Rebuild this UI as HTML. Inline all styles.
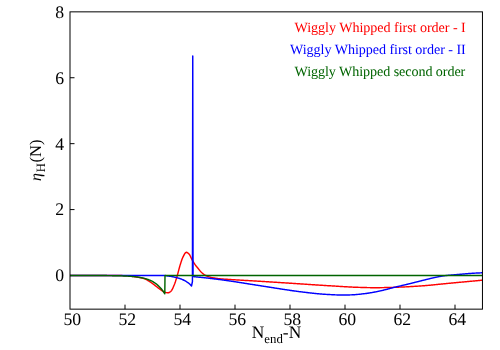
<!DOCTYPE html>
<html><head><meta charset="utf-8"><title>plot</title>
<style>
html,body{margin:0;padding:0;background:#fff;}
body{width:500px;height:350px;overflow:hidden;}
svg{display:block;}
text{font-family:"Liberation Serif",serif;text-rendering:geometricPrecision;}
svg{will-change:transform;}
</style></head>
<body>
<svg width="500" height="350" viewBox="0 0 500 350">
<rect x="0" y="0" width="500" height="350" fill="#ffffff"/>
<g stroke="#000" stroke-width="1" fill="none">
<line x1="125.00" y1="309.15" x2="125.00" y2="304.65"/><line x1="180.00" y1="309.15" x2="180.00" y2="304.65"/><line x1="235.00" y1="309.15" x2="235.00" y2="304.65"/><line x1="290.00" y1="309.15" x2="290.00" y2="304.65"/><line x1="345.00" y1="309.15" x2="345.00" y2="304.65"/><line x1="400.00" y1="309.15" x2="400.00" y2="304.65"/><line x1="455.00" y1="309.15" x2="455.00" y2="304.65"/><line x1="70.0" y1="275.50" x2="74.5" y2="275.50"/><line x1="70.0" y1="209.58" x2="74.5" y2="209.58"/><line x1="70.0" y1="143.66" x2="74.5" y2="143.66"/><line x1="70.0" y1="77.74" x2="74.5" y2="77.74"/>
</g>
<g fill="none" stroke-width="1.45" stroke-linejoin="round" stroke-linecap="butt">
<path d="M70.00,275.50 L70.52,275.50 L71.03,275.50 L71.55,275.50 L72.06,275.50 L72.58,275.50 L73.10,275.50 L73.61,275.50 L74.13,275.50 L74.65,275.50 L75.16,275.50 L75.68,275.50 L76.19,275.50 L76.71,275.50 L77.23,275.50 L77.74,275.50 L78.26,275.50 L78.78,275.50 L79.29,275.50 L79.81,275.50 L80.32,275.50 L80.84,275.50 L81.36,275.50 L81.87,275.50 L82.39,275.50 L82.91,275.50 L83.42,275.50 L83.94,275.50 L84.45,275.50 L84.97,275.50 L85.49,275.50 L86.00,275.50 L86.52,275.50 L87.03,275.50 L87.55,275.50 L88.07,275.50 L88.58,275.50 L89.10,275.50 L89.62,275.50 L90.13,275.50 L90.65,275.50 L91.16,275.50 L91.68,275.50 L92.20,275.50 L92.71,275.50 L93.23,275.50 L93.75,275.50 L94.26,275.50 L94.78,275.50 L95.29,275.50 L95.81,275.50 L96.33,275.50 L96.84,275.50 L97.36,275.50 L97.88,275.50 L98.39,275.50 L98.91,275.50 L99.42,275.50 L99.94,275.50 L100.46,275.50 L100.97,275.50 L101.49,275.50 L102.00,275.50 L102.52,275.50 L103.04,275.50 L103.55,275.50 L104.07,275.50 L104.59,275.50 L105.10,275.50 L105.62,275.50 L106.13,275.50 L106.65,275.50 L107.17,275.50 L107.68,275.50 L108.20,275.50 L108.72,275.50 L109.23,275.50 L109.75,275.50 L110.26,275.50 L110.78,275.50 L111.30,275.50 L111.81,275.50 L112.33,275.50 L112.85,275.50 L113.36,275.51 L113.88,275.51 L114.39,275.51 L114.91,275.51 L115.43,275.52 L115.94,275.52 L116.46,275.52 L116.97,275.53 L117.49,275.53 L118.01,275.53 L118.52,275.54 L119.04,275.54 L119.56,275.55 L120.07,275.55 L120.59,275.56 L121.10,275.57 L121.62,275.58 L122.14,275.59 L122.65,275.61 L123.17,275.62 L123.69,275.64 L124.20,275.66 L124.72,275.69 L125.23,275.71 L125.75,275.73 L126.27,275.76 L126.78,275.79 L127.30,275.82 L127.82,275.85 L128.33,275.90 L128.85,275.95 L129.36,276.00 L129.88,276.06 L130.40,276.12 L130.91,276.19 L131.43,276.26 L131.94,276.33 L132.46,276.41 L132.98,276.49 L133.49,276.57 L134.01,276.65 L134.53,276.73 L135.04,276.81 L135.56,276.89 L136.07,276.96 L136.59,277.04 L137.11,277.13 L137.62,277.21 L138.14,277.29 L138.66,277.38 L139.17,277.47 L139.69,277.57 L140.20,277.67 L140.72,277.78 L141.24,277.89 L141.75,278.00 L142.27,278.13 L142.79,278.26 L143.30,278.40 L143.82,278.55 L144.33,278.71 L144.85,278.90 L145.37,279.12 L145.88,279.36 L146.40,279.63 L146.91,279.91 L147.43,280.21 L147.95,280.52 L148.46,280.84 L148.98,281.16 L149.50,281.49 L150.01,281.81 L150.53,282.14 L151.04,282.48 L151.56,282.84 L152.08,283.21 L152.59,283.59 L153.11,283.98 L153.63,284.38 L154.14,284.78 L154.66,285.17 L155.17,285.57 L155.69,285.97 L156.21,286.36 L156.72,286.76 L157.24,287.17 L157.76,287.58 L158.27,287.99 L158.79,288.40 L159.30,288.79 L159.82,289.17 L160.34,289.52 L160.85,289.88 L161.37,290.24 L161.88,290.59 L162.40,290.93 L162.92,291.25 L163.43,291.54 L163.95,291.79 L164.47,291.99 L164.98,292.16 L165.50,292.32 L166.01,292.48 L166.53,292.61 L167.05,292.72 L167.56,292.78 L168.08,292.80 L168.60,292.71 L169.11,292.52 L169.63,292.23 L170.14,291.88 L170.66,291.48 L171.18,291.04 L171.69,290.37 L172.21,289.49 L172.73,288.43 L173.24,287.27 L173.76,286.07 L174.27,284.84 L174.79,283.47 L175.31,281.97 L175.82,280.38 L176.34,278.70 L176.86,276.99 L177.37,275.26 L177.89,273.40 L178.40,271.42 L178.92,269.40 L179.44,267.45 L179.95,265.65 L180.47,263.99 L180.98,262.34 L181.50,260.76 L182.02,259.29 L182.53,257.99 L183.05,256.91 L183.57,255.89 L184.08,254.88 L184.60,253.95 L185.11,253.16 L185.63,252.60 L186.15,252.32 L186.66,252.34 L187.18,252.54 L187.70,252.87 L188.21,253.28 L188.73,253.75 L189.24,254.26 L189.76,255.02 L190.28,255.99 L190.79,257.08 L191.31,258.22 L191.83,259.31 L192.34,260.27 L192.86,261.15 L193.37,262.01 L193.89,262.83 L194.41,263.63 L194.92,264.39 L195.44,265.10 L195.95,265.78 L196.47,266.44 L196.99,267.07 L197.50,267.70 L198.02,268.32 L198.54,268.97 L199.05,269.62 L199.57,270.27 L200.08,270.89 L200.60,271.49 L201.12,272.03 L201.63,272.51 L202.15,272.98 L202.67,273.42 L203.18,273.85 L203.70,274.25 L204.21,274.63 L204.73,274.97 L205.25,275.27 L205.76,275.53 L206.28,275.76 L206.80,275.99 L207.31,276.20 L207.83,276.40 L208.34,276.58 L208.86,276.76 L209.38,276.92 L209.89,277.08 L210.41,277.22 L210.92,277.35 L211.44,277.48 L211.96,277.59 L212.47,277.70 L212.99,277.80 L213.51,277.90 L214.02,277.99 L214.54,278.08 L215.05,278.17 L215.57,278.25 L216.09,278.33 L216.60,278.40 L217.12,278.47 L217.64,278.54 L218.15,278.60 L218.67,278.66 L219.18,278.72 L219.70,278.77 L220.22,278.82 L220.73,278.87 L221.25,278.91 L221.77,278.96 L222.28,279.00 L222.80,279.04 L223.31,279.07 L223.83,279.11 L224.35,279.15 L224.86,279.18 L225.38,279.21 L225.89,279.25 L226.41,279.28 L226.93,279.31 L227.44,279.34 L227.96,279.37 L228.48,279.40 L228.99,279.44 L229.51,279.47 L230.02,279.50 L230.54,279.54 L231.06,279.57 L231.57,279.60 L232.09,279.63 L232.61,279.67 L233.12,279.70 L233.64,279.73 L234.15,279.77 L234.67,279.80 L235.19,279.83 L235.70,279.86 L236.22,279.89 L236.74,279.92 L237.25,279.96 L237.77,279.99 L238.28,280.02 L238.80,280.05 L239.32,280.08 L239.83,280.11 L240.35,280.14 L240.86,280.17 L241.38,280.20 L241.90,280.23 L242.41,280.26 L242.93,280.29 L243.45,280.32 L243.96,280.35 L244.48,280.38 L244.99,280.41 L245.51,280.44 L246.03,280.47 L246.54,280.50 L247.06,280.53 L247.58,280.56 L248.09,280.59 L248.61,280.62 L249.12,280.65 L249.64,280.68 L250.16,280.71 L250.67,280.74 L251.19,280.77 L251.71,280.80 L252.22,280.83 L252.74,280.86 L253.25,280.90 L253.77,280.93 L254.29,280.96 L254.80,280.99 L255.32,281.02 L255.83,281.05 L256.35,281.08 L256.87,281.11 L257.38,281.14 L257.90,281.17 L258.42,281.20 L258.93,281.23 L259.45,281.27 L259.96,281.30 L260.48,281.33 L261.00,281.36 L261.51,281.39 L262.03,281.43 L262.55,281.46 L263.06,281.49 L263.58,281.52 L264.09,281.55 L264.61,281.59 L265.13,281.62 L265.64,281.65 L266.16,281.68 L266.68,281.71 L267.19,281.75 L267.71,281.78 L268.22,281.81 L268.74,281.84 L269.26,281.88 L269.77,281.91 L270.29,281.94 L270.80,281.97 L271.32,282.01 L271.84,282.04 L272.35,282.07 L272.87,282.11 L273.39,282.14 L273.90,282.17 L274.42,282.20 L274.93,282.24 L275.45,282.27 L275.97,282.30 L276.48,282.34 L277.00,282.37 L277.52,282.40 L278.03,282.43 L278.55,282.47 L279.06,282.50 L279.58,282.53 L280.10,282.57 L280.61,282.60 L281.13,282.63 L281.65,282.66 L282.16,282.70 L282.68,282.73 L283.19,282.76 L283.71,282.80 L284.23,282.83 L284.74,282.86 L285.26,282.90 L285.77,282.93 L286.29,282.96 L286.81,283.00 L287.32,283.03 L287.84,283.06 L288.36,283.09 L288.87,283.13 L289.39,283.16 L289.90,283.19 L290.42,283.23 L290.94,283.26 L291.45,283.29 L291.97,283.33 L292.49,283.36 L293.00,283.39 L293.52,283.43 L294.03,283.46 L294.55,283.50 L295.07,283.53 L295.58,283.56 L296.10,283.60 L296.62,283.63 L297.13,283.67 L297.65,283.70 L298.16,283.73 L298.68,283.77 L299.20,283.80 L299.71,283.84 L300.23,283.87 L300.74,283.91 L301.26,283.94 L301.78,283.98 L302.29,284.01 L302.81,284.05 L303.33,284.08 L303.84,284.12 L304.36,284.15 L304.87,284.18 L305.39,284.22 L305.91,284.25 L306.42,284.29 L306.94,284.32 L307.46,284.36 L307.97,284.39 L308.49,284.43 L309.00,284.46 L309.52,284.50 L310.04,284.53 L310.55,284.57 L311.07,284.60 L311.59,284.63 L312.10,284.67 L312.62,284.70 L313.13,284.74 L313.65,284.77 L314.17,284.81 L314.68,284.84 L315.20,284.87 L315.71,284.91 L316.23,284.94 L316.75,284.98 L317.26,285.01 L317.78,285.04 L318.30,285.08 L318.81,285.11 L319.33,285.14 L319.84,285.18 L320.36,285.21 L320.88,285.24 L321.39,285.27 L321.91,285.31 L322.43,285.34 L322.94,285.37 L323.46,285.40 L323.97,285.44 L324.49,285.47 L325.01,285.50 L325.52,285.53 L326.04,285.56 L326.56,285.60 L327.07,285.63 L327.59,285.66 L328.10,285.69 L328.62,285.72 L329.14,285.75 L329.65,285.78 L330.17,285.81 L330.68,285.84 L331.20,285.87 L331.72,285.90 L332.23,285.93 L332.75,285.96 L333.27,286.00 L333.78,286.03 L334.30,286.06 L334.81,286.09 L335.33,286.12 L335.85,286.15 L336.36,286.19 L336.88,286.22 L337.40,286.25 L337.91,286.28 L338.43,286.31 L338.94,286.35 L339.46,286.38 L339.98,286.41 L340.49,286.44 L341.01,286.47 L341.53,286.51 L342.04,286.54 L342.56,286.57 L343.07,286.60 L343.59,286.63 L344.11,286.66 L344.62,286.69 L345.14,286.72 L345.65,286.75 L346.17,286.78 L346.69,286.81 L347.20,286.84 L347.72,286.87 L348.24,286.90 L348.75,286.93 L349.27,286.95 L349.78,286.98 L350.30,287.01 L350.82,287.03 L351.33,287.06 L351.85,287.08 L352.37,287.11 L352.88,287.13 L353.40,287.16 L353.91,287.18 L354.43,287.20 L354.95,287.22 L355.46,287.24 L355.98,287.27 L356.50,287.28 L357.01,287.30 L357.53,287.32 L358.04,287.34 L358.56,287.36 L359.08,287.37 L359.59,287.39 L360.11,287.40 L360.62,287.42 L361.14,287.43 L361.66,287.45 L362.17,287.46 L362.69,287.48 L363.21,287.49 L363.72,287.50 L364.24,287.52 L364.75,287.53 L365.27,287.55 L365.79,287.56 L366.30,287.57 L366.82,287.59 L367.34,287.60 L367.85,287.61 L368.37,287.62 L368.88,287.63 L369.40,287.64 L369.92,287.65 L370.43,287.66 L370.95,287.67 L371.47,287.68 L371.98,287.68 L372.50,287.69 L373.01,287.69 L373.53,287.70 L374.05,287.70 L374.56,287.70 L375.08,287.70 L375.59,287.70 L376.11,287.70 L376.63,287.70 L377.14,287.69 L377.66,287.69 L378.18,287.69 L378.69,287.68 L379.21,287.67 L379.72,287.67 L380.24,287.66 L380.76,287.65 L381.27,287.65 L381.79,287.64 L382.31,287.63 L382.82,287.62 L383.34,287.61 L383.85,287.60 L384.37,287.59 L384.89,287.57 L385.40,287.56 L385.92,287.55 L386.44,287.54 L386.95,287.52 L387.47,287.51 L387.98,287.50 L388.50,287.48 L389.02,287.47 L389.53,287.46 L390.05,287.44 L390.57,287.43 L391.08,287.41 L391.60,287.40 L392.11,287.38 L392.63,287.37 L393.15,287.35 L393.66,287.34 L394.18,287.32 L394.69,287.31 L395.21,287.29 L395.73,287.28 L396.24,287.26 L396.76,287.25 L397.28,287.23 L397.79,287.21 L398.31,287.19 L398.82,287.17 L399.34,287.15 L399.86,287.13 L400.37,287.11 L400.89,287.09 L401.41,287.07 L401.92,287.05 L402.44,287.02 L402.95,287.00 L403.47,286.97 L403.99,286.95 L404.50,286.92 L405.02,286.90 L405.54,286.87 L406.05,286.85 L406.57,286.82 L407.08,286.79 L407.60,286.76 L408.12,286.73 L408.63,286.71 L409.15,286.68 L409.66,286.65 L410.18,286.62 L410.70,286.59 L411.21,286.56 L411.73,286.53 L412.25,286.49 L412.76,286.46 L413.28,286.43 L413.79,286.40 L414.31,286.37 L414.83,286.34 L415.34,286.30 L415.86,286.27 L416.38,286.24 L416.89,286.20 L417.41,286.17 L417.92,286.14 L418.44,286.10 L418.96,286.07 L419.47,286.03 L419.99,286.00 L420.51,285.97 L421.02,285.93 L421.54,285.89 L422.05,285.86 L422.57,285.82 L423.09,285.78 L423.60,285.74 L424.12,285.70 L424.63,285.66 L425.15,285.61 L425.67,285.57 L426.18,285.53 L426.70,285.48 L427.22,285.44 L427.73,285.39 L428.25,285.35 L428.76,285.30 L429.28,285.25 L429.80,285.21 L430.31,285.16 L430.83,285.11 L431.35,285.06 L431.86,285.01 L432.38,284.96 L432.89,284.91 L433.41,284.86 L433.93,284.81 L434.44,284.76 L434.96,284.70 L435.48,284.65 L435.99,284.60 L436.51,284.55 L437.02,284.50 L437.54,284.44 L438.06,284.39 L438.57,284.34 L439.09,284.28 L439.60,284.23 L440.12,284.18 L440.64,284.13 L441.15,284.07 L441.67,284.02 L442.19,283.97 L442.70,283.92 L443.22,283.86 L443.73,283.81 L444.25,283.76 L444.77,283.71 L445.28,283.66 L445.80,283.60 L446.32,283.55 L446.83,283.50 L447.35,283.45 L447.86,283.40 L448.38,283.35 L448.90,283.30 L449.41,283.25 L449.93,283.21 L450.45,283.16 L450.96,283.11 L451.48,283.06 L451.99,283.01 L452.51,282.97 L453.03,282.92 L453.54,282.87 L454.06,282.82 L454.57,282.78 L455.09,282.73 L455.61,282.68 L456.12,282.63 L456.64,282.58 L457.16,282.54 L457.67,282.49 L458.19,282.44 L458.70,282.39 L459.22,282.34 L459.74,282.30 L460.25,282.25 L460.77,282.20 L461.29,282.15 L461.80,282.11 L462.32,282.06 L462.83,282.01 L463.35,281.96 L463.87,281.91 L464.38,281.87 L464.90,281.82 L465.42,281.77 L465.93,281.72 L466.45,281.68 L466.96,281.63 L467.48,281.58 L468.00,281.53 L468.51,281.48 L469.03,281.44 L469.54,281.39 L470.06,281.34 L470.58,281.29 L471.09,281.25 L471.61,281.20 L472.13,281.15 L472.64,281.10 L473.16,281.06 L473.67,281.01 L474.19,280.96 L474.71,280.91 L475.22,280.87 L475.74,280.82 L476.26,280.77 L476.77,280.72 L477.29,280.68 L477.80,280.63 L478.32,280.58 L478.84,280.53 L479.35,280.49 L479.87,280.44 L480.39,280.39 L480.90,280.34 L481.42,280.29 L481.93,280.25 L482.45,280.20" stroke="#ff0000"/>
<path d="M70.00,275.50 L164.90,275.50 L165.35,275.57 L165.80,275.65 L166.25,275.72 L166.70,275.79 L167.15,275.87 L167.61,275.94 L168.06,276.01 L168.51,276.08 L168.96,276.14 L169.41,276.20 L169.86,276.27 L170.31,276.33 L170.76,276.40 L171.21,276.47 L171.66,276.54 L172.11,276.62 L172.56,276.71 L173.02,276.79 L173.47,276.89 L173.92,276.99 L174.37,277.09 L174.82,277.19 L175.27,277.30 L175.72,277.41 L176.17,277.53 L176.62,277.65 L177.07,277.77 L177.52,277.89 L177.97,278.01 L178.43,278.14 L178.88,278.27 L179.33,278.41 L179.78,278.55 L180.23,278.70 L180.68,278.86 L181.13,279.02 L181.58,279.19 L182.03,279.38 L182.48,279.57 L182.93,279.78 L183.38,280.00 L183.84,280.23 L184.29,280.47 L184.74,280.72 L185.19,280.97 L185.64,281.22 L186.09,281.48 L186.54,281.75 L186.99,282.03 L187.44,282.32 L187.89,282.62 L188.34,282.95 L188.79,283.30 L189.25,283.67 L189.70,284.08 L190.15,284.53 L190.60,284.99 L191.05,285.49 L191.50,286.00 L192.45,281.50 L192.75,55.90 L193.05,276.60 L193.63,276.65 L194.21,276.71 L194.79,276.76 L195.37,276.82 L195.95,276.87 L196.53,276.93 L197.11,276.98 L197.69,277.04 L198.27,277.10 L198.85,277.16 L199.43,277.22 L200.01,277.27 L200.59,277.33 L201.17,277.39 L201.75,277.45 L202.33,277.51 L202.91,277.58 L203.49,277.64 L204.07,277.70 L204.65,277.76 L205.23,277.83 L205.81,277.89 L206.39,277.95 L206.97,278.02 L207.55,278.08 L208.13,278.15 L208.71,278.22 L209.29,278.28 L209.87,278.35 L210.45,278.42 L211.03,278.49 L211.61,278.55 L212.19,278.62 L212.77,278.69 L213.35,278.76 L213.93,278.83 L214.51,278.91 L215.09,278.98 L215.67,279.05 L216.25,279.12 L216.83,279.19 L217.41,279.27 L217.99,279.34 L218.57,279.42 L219.15,279.49 L219.73,279.56 L220.31,279.64 L220.89,279.72 L221.47,279.79 L222.05,279.87 L222.63,279.95 L223.21,280.03 L223.79,280.11 L224.37,280.19 L224.95,280.27 L225.53,280.35 L226.11,280.44 L226.69,280.52 L227.27,280.60 L227.85,280.69 L228.43,280.77 L229.01,280.86 L229.59,280.94 L230.17,281.02 L230.75,281.11 L231.33,281.20 L231.91,281.28 L232.49,281.37 L233.07,281.46 L233.65,281.54 L234.23,281.63 L234.81,281.72 L235.39,281.81 L235.97,281.90 L236.55,281.99 L237.13,282.08 L237.71,282.17 L238.29,282.26 L238.87,282.35 L239.45,282.44 L240.03,282.53 L240.61,282.62 L241.19,282.71 L241.77,282.80 L242.35,282.90 L242.93,282.99 L243.51,283.08 L244.09,283.17 L244.67,283.26 L245.25,283.36 L245.83,283.45 L246.41,283.54 L246.99,283.63 L247.57,283.73 L248.15,283.82 L248.73,283.91 L249.31,284.01 L249.89,284.10 L250.47,284.19 L251.05,284.28 L251.63,284.38 L252.21,284.47 L252.79,284.56 L253.37,284.65 L253.95,284.75 L254.53,284.84 L255.11,284.93 L255.69,285.02 L256.27,285.11 L256.85,285.20 L257.43,285.29 L258.01,285.38 L258.59,285.47 L259.17,285.56 L259.75,285.65 L260.33,285.74 L260.91,285.83 L261.49,285.92 L262.07,286.01 L262.65,286.10 L263.23,286.19 L263.81,286.28 L264.39,286.37 L264.97,286.45 L265.54,286.54 L266.12,286.63 L266.70,286.73 L267.28,286.82 L267.86,286.91 L268.44,287.00 L269.02,287.09 L269.60,287.18 L270.18,287.27 L270.76,287.36 L271.34,287.45 L271.92,287.55 L272.50,287.64 L273.08,287.73 L273.66,287.82 L274.24,287.91 L274.82,288.00 L275.40,288.10 L275.98,288.19 L276.56,288.28 L277.14,288.37 L277.72,288.46 L278.30,288.55 L278.88,288.64 L279.46,288.74 L280.04,288.83 L280.62,288.92 L281.20,289.01 L281.78,289.10 L282.36,289.19 L282.94,289.28 L283.52,289.37 L284.10,289.45 L284.68,289.54 L285.26,289.63 L285.84,289.72 L286.42,289.81 L287.00,289.89 L287.58,289.98 L288.16,290.07 L288.74,290.15 L289.32,290.24 L289.90,290.33 L290.48,290.41 L291.06,290.49 L291.64,290.58 L292.22,290.66 L292.80,290.74 L293.38,290.82 L293.96,290.91 L294.54,290.99 L295.12,291.07 L295.70,291.15 L296.28,291.22 L296.86,291.30 L297.44,291.38 L298.02,291.46 L298.60,291.53 L299.18,291.61 L299.76,291.68 L300.34,291.76 L300.92,291.83 L301.50,291.90 L302.08,291.97 L302.66,292.04 L303.24,292.11 L303.82,292.18 L304.40,292.25 L304.98,292.32 L305.56,292.38 L306.14,292.45 L306.72,292.52 L307.30,292.59 L307.88,292.66 L308.46,292.72 L309.04,292.79 L309.62,292.86 L310.20,292.93 L310.78,292.99 L311.36,293.06 L311.94,293.12 L312.52,293.19 L313.10,293.25 L313.68,293.32 L314.26,293.38 L314.84,293.44 L315.42,293.50 L316.00,293.56 L316.58,293.62 L317.16,293.68 L317.74,293.73 L318.32,293.79 L318.90,293.84 L319.48,293.89 L320.06,293.94 L320.64,293.99 L321.22,294.04 L321.80,294.08 L322.38,294.13 L322.96,294.17 L323.54,294.21 L324.12,294.25 L324.70,294.28 L325.28,294.32 L325.86,294.35 L326.44,294.38 L327.02,294.42 L327.60,294.45 L328.18,294.49 L328.76,294.52 L329.34,294.55 L329.92,294.59 L330.50,294.62 L331.08,294.65 L331.66,294.68 L332.24,294.71 L332.82,294.74 L333.40,294.77 L333.98,294.80 L334.56,294.82 L335.14,294.85 L335.72,294.87 L336.30,294.89 L336.88,294.91 L337.46,294.93 L338.04,294.95 L338.62,294.96 L339.20,294.97 L339.78,294.98 L340.36,294.99 L340.94,295.00 L341.52,295.00 L342.10,295.00 L342.68,295.00 L343.26,295.00 L343.84,294.99 L344.42,294.99 L345.00,294.98 L345.58,294.97 L346.16,294.97 L346.74,294.96 L347.32,294.95 L347.90,294.94 L348.48,294.93 L349.06,294.92 L349.64,294.91 L350.22,294.90 L350.80,294.88 L351.38,294.86 L351.96,294.84 L352.54,294.81 L353.12,294.78 L353.70,294.74 L354.28,294.70 L354.86,294.66 L355.44,294.61 L356.02,294.56 L356.60,294.51 L357.18,294.46 L357.76,294.40 L358.34,294.35 L358.92,294.29 L359.50,294.23 L360.08,294.16 L360.66,294.10 L361.24,294.03 L361.82,293.97 L362.40,293.90 L362.98,293.83 L363.56,293.77 L364.14,293.70 L364.72,293.63 L365.30,293.57 L365.88,293.49 L366.46,293.42 L367.04,293.34 L367.62,293.26 L368.20,293.17 L368.78,293.09 L369.36,293.00 L369.94,292.90 L370.52,292.80 L371.10,292.71 L371.68,292.60 L372.26,292.50 L372.84,292.40 L373.42,292.29 L374.00,292.18 L374.58,292.07 L375.16,291.96 L375.74,291.85 L376.32,291.73 L376.90,291.62 L377.48,291.50 L378.06,291.39 L378.64,291.27 L379.22,291.15 L379.80,291.02 L380.38,290.90 L380.96,290.76 L381.54,290.63 L382.12,290.49 L382.70,290.35 L383.28,290.21 L383.86,290.07 L384.44,289.92 L385.02,289.78 L385.60,289.63 L386.18,289.48 L386.76,289.33 L387.34,289.18 L387.92,289.02 L388.50,288.87 L389.08,288.72 L389.66,288.57 L390.24,288.41 L390.82,288.26 L391.40,288.11 L391.98,287.96 L392.56,287.81 L393.14,287.66 L393.72,287.52 L394.30,287.37 L394.88,287.23 L395.46,287.09 L396.04,286.95 L396.62,286.81 L397.20,286.67 L397.78,286.53 L398.36,286.39 L398.94,286.25 L399.52,286.11 L400.10,285.98 L400.68,285.84 L401.26,285.70 L401.84,285.56 L402.42,285.42 L403.00,285.29 L403.58,285.15 L404.16,285.01 L404.74,284.87 L405.32,284.73 L405.90,284.59 L406.48,284.45 L407.06,284.32 L407.64,284.18 L408.22,284.03 L408.80,283.89 L409.38,283.75 L409.96,283.61 L410.53,283.47 L411.11,283.33 L411.69,283.18 L412.27,283.04 L412.85,282.89 L413.43,282.75 L414.01,282.60 L414.59,282.46 L415.17,282.31 L415.75,282.17 L416.33,282.02 L416.91,281.87 L417.49,281.73 L418.07,281.58 L418.65,281.44 L419.23,281.29 L419.81,281.15 L420.39,281.00 L420.97,280.86 L421.55,280.71 L422.13,280.56 L422.71,280.42 L423.29,280.27 L423.87,280.13 L424.45,279.98 L425.03,279.84 L425.61,279.69 L426.19,279.55 L426.77,279.41 L427.35,279.27 L427.93,279.13 L428.51,278.98 L429.09,278.84 L429.67,278.70 L430.25,278.56 L430.83,278.42 L431.41,278.29 L431.99,278.15 L432.57,278.02 L433.15,277.89 L433.73,277.76 L434.31,277.63 L434.89,277.51 L435.47,277.38 L436.05,277.25 L436.63,277.13 L437.21,277.00 L437.79,276.88 L438.37,276.76 L438.95,276.65 L439.53,276.53 L440.11,276.42 L440.69,276.32 L441.27,276.22 L441.85,276.12 L442.43,276.03 L443.01,275.95 L443.59,275.86 L444.17,275.78 L444.75,275.71 L445.33,275.63 L445.91,275.57 L446.49,275.50 L447.07,275.44 L447.65,275.38 L448.23,275.32 L448.81,275.27 L449.39,275.21 L449.97,275.16 L450.55,275.11 L451.13,275.06 L451.71,275.01 L452.29,274.96 L452.87,274.91 L453.45,274.87 L454.03,274.82 L454.61,274.77 L455.19,274.73 L455.77,274.68 L456.35,274.64 L456.93,274.59 L457.51,274.54 L458.09,274.49 L458.67,274.44 L459.25,274.39 L459.83,274.34 L460.41,274.29 L460.99,274.24 L461.57,274.19 L462.15,274.14 L462.73,274.09 L463.31,274.03 L463.89,273.98 L464.47,273.93 L465.05,273.88 L465.63,273.83 L466.21,273.78 L466.79,273.73 L467.37,273.68 L467.95,273.63 L468.53,273.59 L469.11,273.54 L469.69,273.49 L470.27,273.45 L470.85,273.41 L471.43,273.37 L472.01,273.33 L472.59,273.29 L473.17,273.25 L473.75,273.21 L474.33,273.18 L474.91,273.15 L475.49,273.12 L476.07,273.08 L476.65,273.05 L477.23,273.02 L477.81,273.00 L478.39,272.97 L478.97,272.94 L479.55,272.92 L480.13,272.89 L480.71,272.87 L481.29,272.84 L481.87,272.82 L482.45,272.80" stroke="#0000ff"/>
<path d="M70.00,275.50 L70.48,275.50 L70.95,275.50 L71.43,275.50 L71.91,275.50 L72.38,275.50 L72.86,275.50 L73.33,275.50 L73.81,275.50 L74.29,275.50 L74.76,275.51 L75.24,275.51 L75.72,275.51 L76.19,275.51 L76.67,275.51 L77.15,275.51 L77.62,275.51 L78.10,275.51 L78.57,275.51 L79.05,275.51 L79.53,275.51 L80.00,275.51 L80.48,275.51 L80.96,275.51 L81.43,275.51 L81.91,275.51 L82.39,275.51 L82.86,275.51 L83.34,275.51 L83.82,275.51 L84.29,275.51 L84.77,275.51 L85.24,275.51 L85.72,275.51 L86.20,275.51 L86.67,275.52 L87.15,275.52 L87.63,275.52 L88.10,275.52 L88.58,275.52 L89.06,275.52 L89.53,275.52 L90.01,275.52 L90.48,275.52 L90.96,275.52 L91.44,275.52 L91.91,275.52 L92.39,275.53 L92.87,275.53 L93.34,275.53 L93.82,275.53 L94.30,275.53 L94.77,275.53 L95.25,275.53 L95.72,275.53 L96.20,275.54 L96.68,275.54 L97.15,275.54 L97.63,275.54 L98.11,275.54 L98.58,275.54 L99.06,275.55 L99.54,275.55 L100.01,275.55 L100.49,275.55 L100.96,275.56 L101.44,275.56 L101.92,275.56 L102.39,275.56 L102.87,275.57 L103.35,275.57 L103.82,275.57 L104.30,275.57 L104.78,275.58 L105.25,275.58 L105.73,275.59 L106.21,275.59 L106.68,275.59 L107.16,275.60 L107.63,275.60 L108.11,275.61 L108.59,275.61 L109.06,275.62 L109.54,275.62 L110.02,275.63 L110.49,275.63 L110.97,275.64 L111.45,275.64 L111.92,275.65 L112.40,275.66 L112.87,275.66 L113.35,275.67 L113.83,275.68 L114.30,275.69 L114.78,275.69 L115.26,275.70 L115.73,275.71 L116.21,275.72 L116.69,275.73 L117.16,275.74 L117.64,275.75 L118.11,275.76 L118.59,275.77 L119.07,275.79 L119.54,275.80 L120.02,275.81 L120.50,275.83 L120.97,275.84 L121.45,275.86 L121.93,275.87 L122.40,275.89 L122.88,275.91 L123.35,275.92 L123.83,275.94 L124.31,275.96 L124.78,275.98 L125.26,276.00 L125.74,276.03 L126.21,276.05 L126.69,276.07 L127.17,276.10 L127.64,276.13 L128.12,276.15 L128.59,276.18 L129.07,276.21 L129.55,276.24 L130.02,276.28 L130.50,276.31 L130.98,276.35 L131.45,276.39 L131.93,276.42 L132.41,276.47 L132.88,276.51 L133.36,276.55 L133.84,276.60 L134.31,276.65 L134.79,276.70 L135.26,276.75 L135.74,276.81 L136.22,276.87 L136.69,276.93 L137.17,276.99 L137.65,277.05 L138.12,277.12 L138.60,277.20 L139.08,277.27 L139.55,277.35 L140.03,277.43 L140.50,277.52 L140.98,277.61 L141.46,277.70 L141.93,277.80 L142.41,277.90 L142.89,278.00 L143.36,278.11 L143.84,278.23 L144.32,278.35 L144.79,278.48 L145.27,278.61 L145.74,278.75 L146.22,278.89 L146.70,279.04 L147.17,279.20 L147.65,279.36 L148.13,279.53 L148.60,279.71 L149.08,279.90 L149.56,280.09 L150.03,280.29 L150.51,280.51 L150.98,280.73 L151.46,280.96 L151.94,281.20 L152.41,281.45 L152.89,281.72 L153.37,281.99 L153.84,282.28 L154.32,282.58 L154.80,282.89 L155.27,283.22 L155.75,283.56 L156.23,283.92 L156.70,284.29 L157.18,284.68 L157.65,285.09 L158.13,285.51 L158.61,285.95 L159.08,286.42 L159.56,286.90 L160.04,287.41 L160.51,287.93 L160.99,288.48 L161.47,289.06 L161.94,289.66 L162.42,290.28 L162.89,290.94 L163.37,291.62 L163.85,292.34 L164.32,293.08 L164.80,293.86 L165.00,275.50 L482.45,275.50" stroke="#006400"/>
</g>
<g stroke="#000" stroke-width="1" fill="none">
<rect x="70.0" y="11.85" width="412.45" height="297.30"/>
</g>
<g font-size="17.7px" fill="#000">
<text x="72.30" y="324.8" text-anchor="middle">50</text><text x="127.30" y="324.8" text-anchor="middle">52</text><text x="182.30" y="324.8" text-anchor="middle">54</text><text x="237.30" y="324.8" text-anchor="middle">56</text><text x="292.30" y="324.8" text-anchor="middle">58</text><text x="347.30" y="324.8" text-anchor="middle">60</text><text x="402.30" y="324.8" text-anchor="middle">62</text><text x="457.30" y="324.8" text-anchor="middle">64</text>
<text x="64.2" y="281.40" text-anchor="end">0</text><text x="64.2" y="215.48" text-anchor="end">2</text><text x="64.2" y="149.56" text-anchor="end">4</text><text x="64.2" y="83.64" text-anchor="end">6</text><text x="64.2" y="17.72" text-anchor="end">8</text>
</g>
<g font-size="14.1px" lengthAdjust="spacing">
<text x="294.5" y="31.8" textLength="171.3" fill="#ff0000">Wiggly Whipped first order - I</text>
<text x="290" y="53.8" textLength="175.8" fill="#0000ff">Wiggly Whipped first order - II</text>
<text x="294.5" y="75.5" textLength="170.8" fill="#006400">Wiggly Whipped second order</text>
</g>
<text font-size="17.6px" x="251.8" y="338.0" textLength="49.4" lengthAdjust="spacingAndGlyphs" fill="#000">N<tspan font-size="13px" dy="4.6">end</tspan><tspan dy="-4.6">-N</tspan></text>
<text font-size="16.5px" transform="translate(41.4,181) rotate(-90)" fill="#000"><tspan x="0" font-style="italic" font-size="16px">η</tspan><tspan x="8.7" font-size="12.7px" dy="3.5">H</tspan><tspan x="18.5" dy="-3.5">(N)</tspan></text>
</svg>
</body></html>
